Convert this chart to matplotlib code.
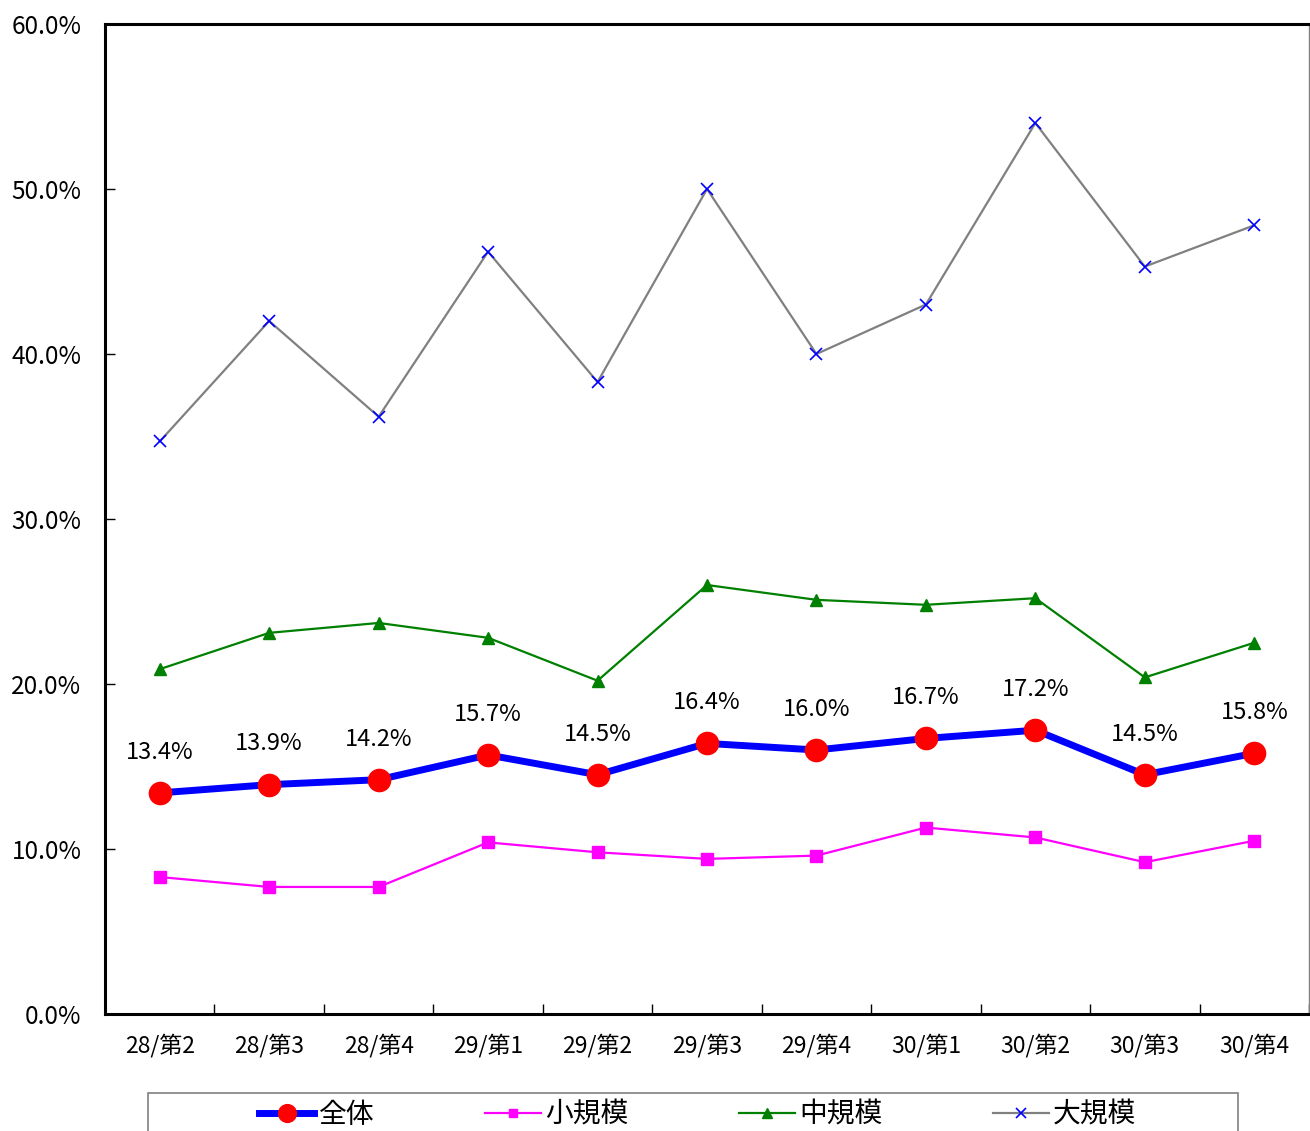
import matplotlib
matplotlib.use('Agg')
import matplotlib.pyplot as plt
from matplotlib.patches import Rectangle
from matplotlib.ticker import FuncFormatter, FixedLocator

plt.rcParams['font.family'] = ['Noto Sans CJK JP', 'DejaVu Sans']

# ── データ ─────────────────────────────────────────────
quarters = ['28/第2', '28/第3', '28/第4', '29/第1', '29/第2', '29/第3',
            '29/第4', '30/第1', '30/第2', '30/第3', '30/第4']
total = [13.4, 13.9, 14.2, 15.7, 14.5, 16.4, 16.0, 16.7, 17.2, 14.5, 15.8]
small = [8.3, 7.7, 7.7, 10.4, 9.8, 9.4, 9.6, 11.3, 10.7, 9.2, 10.5]
medium = [20.9, 23.1, 23.7, 22.8, 20.2, 26.0, 25.1, 24.8, 25.2, 20.4, 22.5]
large = [34.7, 42.0, 36.2, 46.2, 38.3, 50.0, 40.0, 43.0, 54.0, 45.3, 47.8]

W, H = 1310, 1131
fig = plt.figure(figsize=(W / 100, H / 100), dpi=100)
ax = fig.add_axes([105 / W, 1 - 1014 / H, (1309 - 105) / W, (1014 - 24) / H])

x = list(range(len(quarters)))

ax.plot(x, large, color='#808080', linewidth=1.6, marker='x', markersize=9,
        markeredgecolor='#0000FF', markeredgewidth=1.2, label='大規模', zorder=2)
ax.plot(x, medium, color='#008000', linewidth=1.6, marker='^', markersize=9,
        markerfacecolor='#008000', markeredgecolor='#008000', label='中規模', zorder=2)
ax.plot(x, small, color='#FF00FF', linewidth=1.6, marker='s', markersize=8,
        markerfacecolor='#FF00FF', markeredgecolor='#FF00FF', label='小規模', zorder=2)
ax.plot(x, total, color='#0000FF', linewidth=5, marker='o', markersize=16,
        markerfacecolor='#FF0000', markeredgecolor='#FF0000', label='全体', zorder=3)

for xi, v in zip(x, total):
    ax.annotate(f'{v:.1f}%', xy=(xi, v), xytext=(0, 21), textcoords='offset points',
                ha='center', va='bottom', fontsize=17)

ax.set_xlim(-0.5, len(quarters) - 0.5)
ax.set_ylim(0, 60)
ax.yaxis.set_major_locator(FixedLocator([0, 10, 20, 30, 40, 50, 60]))
ax.yaxis.set_major_formatter(FuncFormatter(lambda v, _: f'{v:.1f}%'))
ax.set_xticks(x)
ax.set_xticklabels(quarters)
ax.set_xticks([i - 0.5 for i in range(len(quarters) + 1)], minor=True)
ax.tick_params(axis='x', which='major', length=0, pad=14, labelsize=16.5)
ax.tick_params(axis='x', which='minor', direction='in', length=7, width=1)
ax.tick_params(axis='y', direction='in', length=7, width=1, pad=17, labelsize=17.5)

for side in ['left', 'bottom', 'top']:
    ax.spines[side].set_linewidth(2.2)
    ax.spines[side].set_color('black')
ax.spines['right'].set_linewidth(1)
ax.spines['right'].set_color('#808080')

# 凡例（枠は別に描く）
fig.patches.append(Rectangle((148 / W, -0.05), (1238 - 148) / W, 0.05 + 1 - 1093 / H,
                             transform=fig.transFigure, facecolor='white',
                             edgecolor='#808080', linewidth=1.2))
handles, labels = ax.get_legend_handles_labels()
order = [3, 2, 1, 0]
fig.legend([handles[i] for i in order], [labels[i] for i in order],
           loc='center', bbox_to_anchor=((260 + 1135) / 2 / W, 1 - 1115 / H),
           ncol=4, frameon=False, fontsize=20, handlelength=2.0,
           handletextpad=0.15, columnspacing=4.0, borderpad=0, markerscale=0.8)

fig.savefig('out.png', dpi=100)
